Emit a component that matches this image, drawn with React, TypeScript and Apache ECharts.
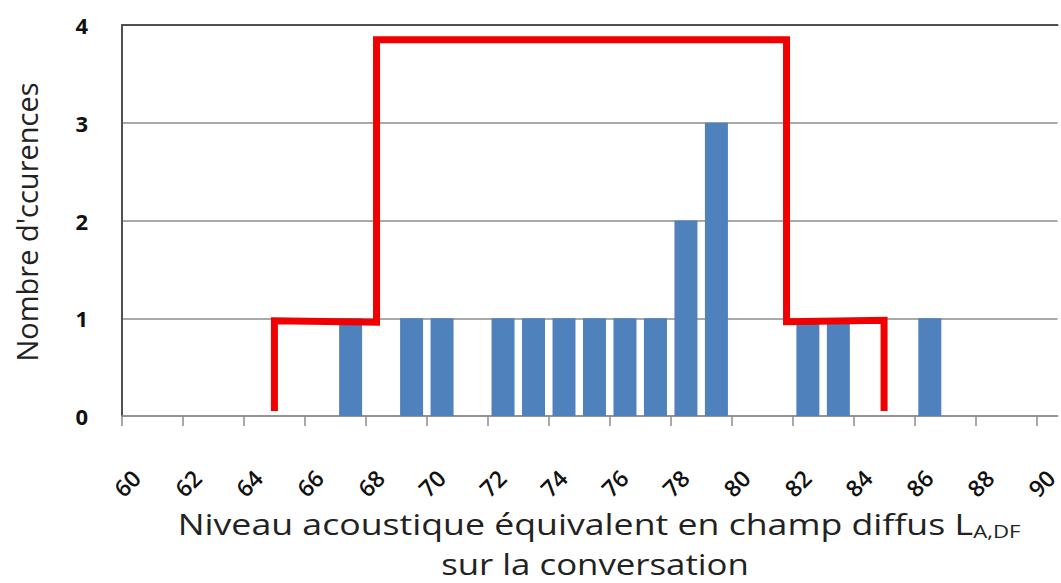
import React, { useEffect, useRef } from "react";
import * as echarts from "echarts";

// Histogram bins (centre of each 1-dB bin) and number of occurrences
const binCenters = [67.5, 69.5, 70.5, 72.5, 73.5, 74.5, 75.5, 76.5, 77.5, 78.5, 79.5, 82.5, 83.5, 86.5];
const occurrences = [1, 1, 1, 1, 1, 1, 1, 1, 1, 2, 3, 1, 1, 1];

// Red step outline
const limitX = [65, 65, 68.35, 68.35, 81.8, 81.8, 85, 85];
const limitY = [0.05, 0.975, 0.96, 3.85, 3.85, 0.965, 0.98, 0.05];

// Axis ticks
const xTicks = [60, 62, 64, 66, 68, 70, 72, 74, 76, 78, 80, 82, 84, 86, 88, 90];
const yTicks = [0, 1, 2, 3, 4];

const xTitle = "Niveau acoustique équivalent en champ diffus L";
const xTitleSub = "A,DF";
const xTitle2 = "sur la conversation";
const yTitle = "Nombre d'ccurences";

export default function App() {
  const ref = useRef<HTMLDivElement>(null);
  useEffect(() => {
    if (!ref.current) return;
    const chart = echarts.init(ref.current, null, { renderer: "svg" });
    const font = "'Open Sans', sans-serif";
    chart.setOption({
      animation: false,
      backgroundColor: "#ffffff",
      grid: { left: 122, top: 25, right: 0, bottom: 167, containLabel: false },
      xAxis: [
        {
          type: "value",
          min: 60,
          max: 90.69,
          interval: 2,
          axisLine: { show: true, lineStyle: { color: "#8c8c8c", width: 1.5 } },
          axisTick: { show: true, length: 10, customValues: xTicks, lineStyle: { color: "#8c8c8c", width: 1.5 } },
          axisLabel: {
            customValues: xTicks,
            rotate: 45,
            align: "center",
            verticalAlign: "middle",
            margin: 72,
            padding: [14, 0, 0, 14],
            fontSize: 23,
            fontFamily: font,
            fontWeight: 600,
            color: "#111",
          },
          splitLine: { show: false },
        },
        {
          type: "value",
          position: "top",
          min: 60,
          max: 90.69,
          axisLine: { show: true, onZero: false, lineStyle: { color: "#505050", width: 2 } },
          axisTick: { show: false },
          axisLabel: { show: false },
          splitLine: { show: false },
        },
      ],
      yAxis: {
        type: "value",
        min: yTicks[0],
        max: yTicks[yTicks.length - 1],
        interval: 1,
        axisLine: { show: true, lineStyle: { color: "#505050", width: 2 } },
        axisTick: { show: false },
        axisLabel: {
          margin: 34,
          fontSize: 22,
          fontWeight: "bold",
          fontFamily: font,
          color: "#111",
        },
        splitLine: { show: true, lineStyle: { color: "#8c8c8c", width: 1.5 } },
      },
      series: [
        {
          type: "bar",
          xAxisIndex: 0,
          barWidth: 23,
          itemStyle: { color: "#4f81bd" },
          data: binCenters.map((x, i) => [x, occurrences[i]]),
        },
        {
          type: "line",
          xAxisIndex: 0,
          symbol: "none",
          lineStyle: { color: "#f00000", width: 7, join: "miter", cap: "butt" },
          data: limitX.map((x, i) => [x, limitY[i]]),
          z: 5,
        },
      ],
      graphic: [
        {
          type: "text",
          x: 599,
          y: 524,
          scaleX: 1.23,
          style: {
            text: `{m|${xTitle}}{s|${xTitleSub}}`,
            align: "center",
            verticalAlign: "middle",
            rich: {
              m: { fontSize: 29, fontFamily: font, fill: "#222", fontWeight: 400 },
              s: { fontSize: 18, fontFamily: font, fill: "#222", verticalAlign: "bottom", padding: [14, 0, 0, 0] },
            },
          },
        },
        {
          type: "text",
          x: 595,
          y: 564,
          scaleX: 1.2,
          style: {
            text: xTitle2,
            fontSize: 29,
            fontFamily: font,
            fill: "#222",
            align: "center",
            verticalAlign: "middle",
          },
        },
        {
          type: "text",
          x: 26,
          y: 222,
          rotation: Math.PI / 2,
          style: {
            text: yTitle,
            fontSize: 29,
            fontFamily: font,
            fill: "#222",
            align: "center",
            verticalAlign: "middle",
          },
        },
      ],
    });
    return () => chart.dispose();
  }, []);
  return (
    <div
      ref={ref}
      style={{ position: "fixed", left: 0, top: 0, width: 1061, height: 583, background: "#fff" }}
    />
  );
}
